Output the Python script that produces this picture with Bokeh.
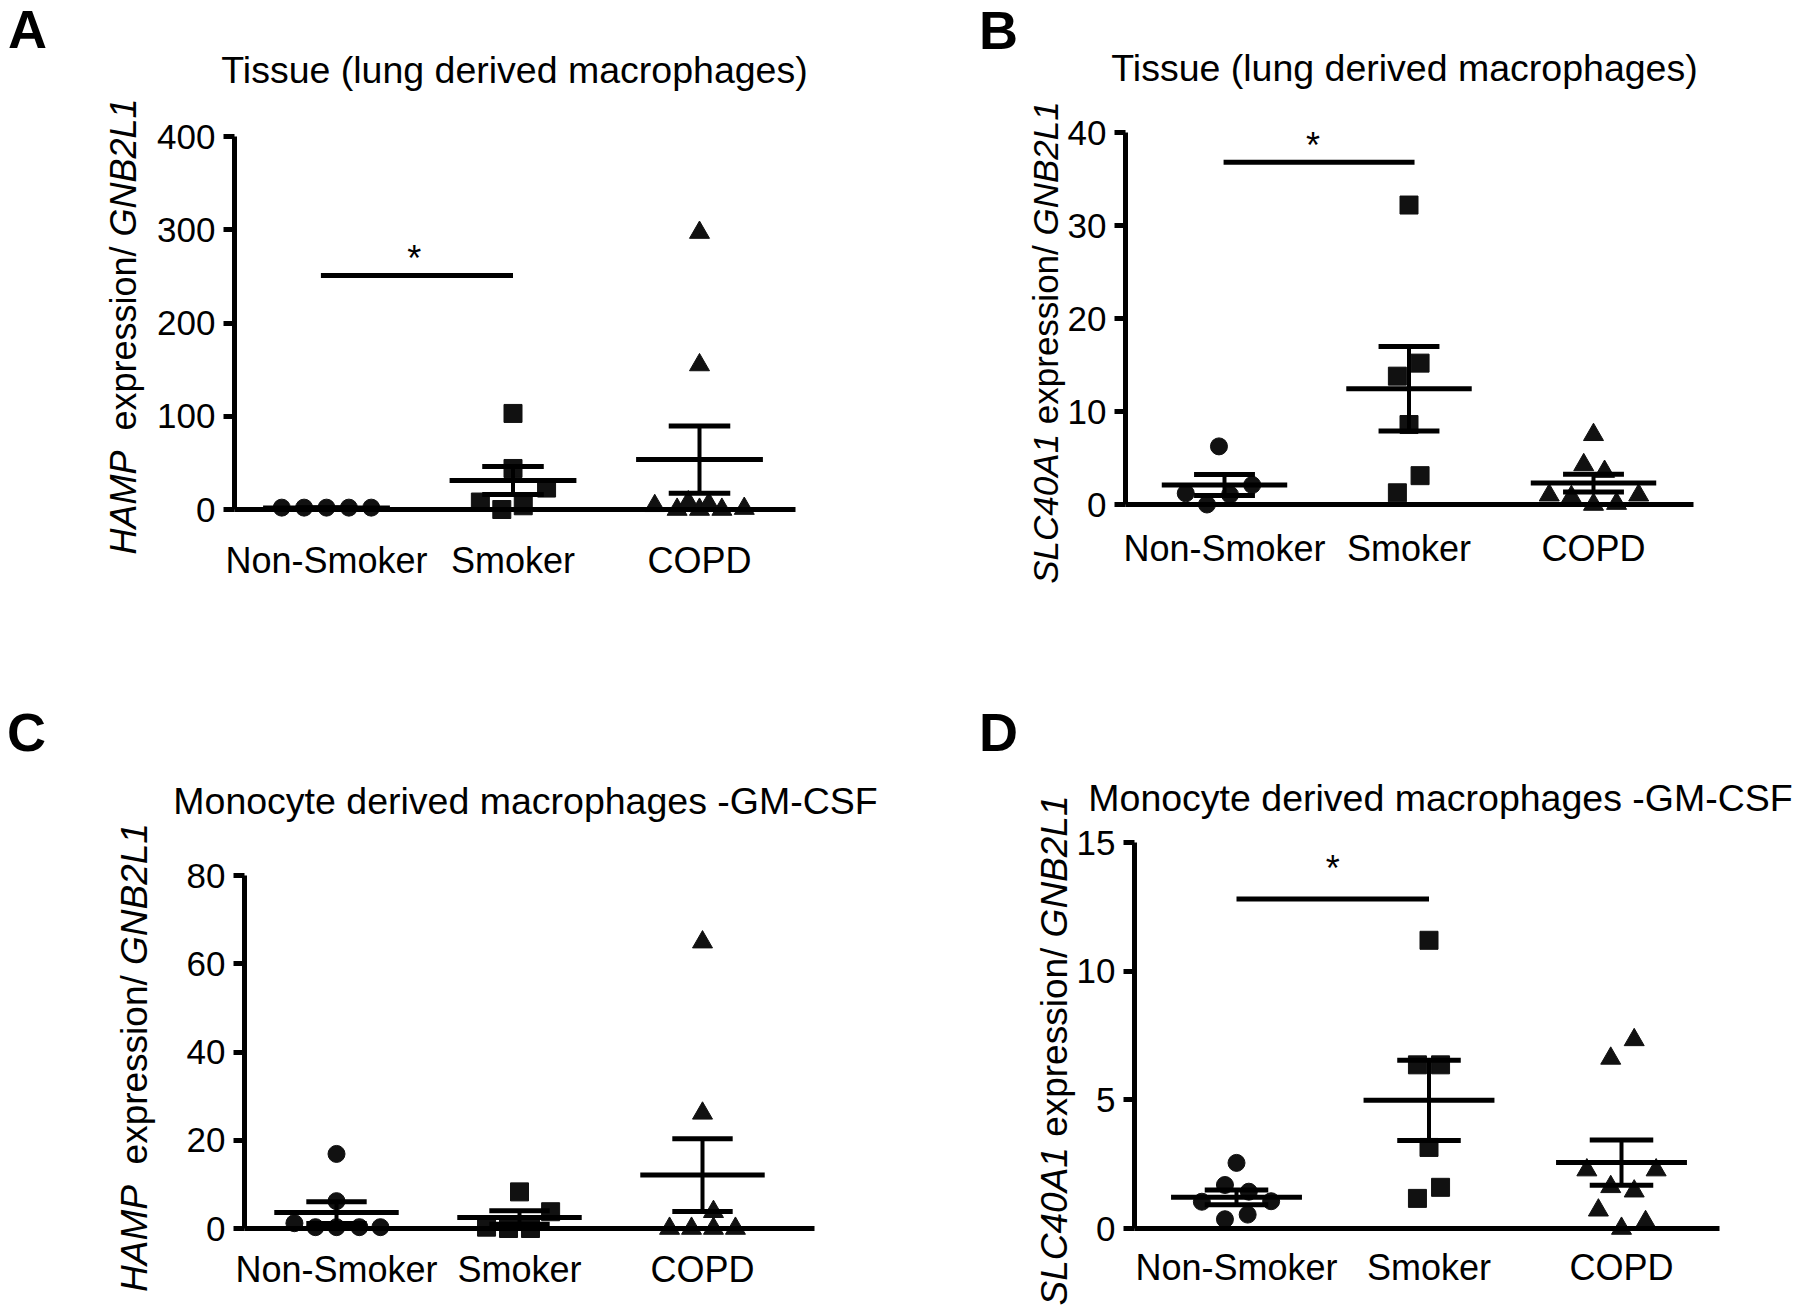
import math
from bokeh.plotting import figure
from bokeh.models import FixedTicker, Label, Range1d
from bokeh.layouts import column, row
from bokeh.embed import file_html
from bokeh.resources import INLINE
from bokeh.core.properties import value

# ---------------- data ----------------
groups = ["Non-Smoker", "Smoker", "COPD"]

# Panel A: HAMP, tissue
a_ns = [2, 2, 2, 2, 2]
a_ns_dx = [-0.24, -0.12, 0.0, 0.12, 0.24]
a_sm = [103, 44, 23, 8, 0, 4]
a_sm_dx = [0.0, 0.0, 0.18, -0.175, -0.06, 0.055]
a_copd = [297, 155, 4, 0, 8, 0, 6, 0, 1]
a_copd_dx = [0.0, 0.0, -0.24, -0.12, -0.06, 0.0, 0.05, 0.12, 0.24]
a_mean = [1.5, 31.0, 53.5]
a_sem = [0.5, 15.0, 36.0]
a_yticks = [0, 100, 200, 300, 400]
a_sig_x = [-0.03, 1.0]
a_sig_y = 251
a_star = [0.47, 278]

# Panel B: SLC40A1, tissue
b_ns = [6.25, 2.1, 1.2, 1.05, 0.0]
b_ns_dx = [-0.03, 0.15, -0.21, 0.03, -0.095]
b_sm = [32.2, 15.2, 13.8, 8.6, 3.1, 1.26]
b_sm_dx = [0.0, 0.06, -0.063, 0.0, 0.06, -0.063]
b_copd = [7.5, 4.26, 3.54, 1.0, 0.83, 0.0, 0.1, 1.0]
b_copd_dx = [0.0, -0.053, 0.06, -0.24, -0.12, 0.0, 0.125, 0.245]
b_mean = [2.1, 12.45, 2.3]
b_sem = [1.12, 4.55, 0.95]
b_yticks = [0, 10, 20, 30, 40]
b_sig_x = [-0.005, 1.03]
b_sig_y = 36.8
b_star = [0.48, 39.5]

# Panel C: HAMP, monocyte derived
c_ns = [16.9, 6.2, 1.2, 0.3, 0.3, 0.3, 0.3]
c_ns_dx = [0.0, 0.0, -0.23, -0.115, 0.0, 0.125, 0.24]
c_sm = [8.3, 3.8, 0.3, 0.0, 0.0]
c_sm_dx = [0.0, 0.17, -0.18, -0.06, 0.06]
c_copd = [64.9, 26.1, 3.8, 0.0, 0.0, 0.0, 0.0]
c_copd_dx = [0.0, 0.0, 0.06, -0.18, -0.06, 0.06, 0.18]
c_mean = [3.6, 2.5, 12.1]
c_sem = [2.45, 1.55, 8.25]
c_yticks = [0, 20, 40, 60, 80]

# Panel D: SLC40A1, monocyte derived
d_ns = [2.55, 1.69, 1.43, 1.04, 1.06, 0.36, 0.54]
d_ns_dx = [0.0, -0.06, 0.064, -0.18, 0.18, -0.06, 0.058]
d_sm = [11.2, 6.36, 6.36, 3.15, 1.6, 1.17]
d_sm_dx = [0.0, -0.06, 0.06, 0.0, 0.06, -0.06]
d_copd = [7.33, 6.61, 2.27, 2.27, 1.62, 1.45, 0.71, 0.26, 0.0]
d_copd_dx = [0.066, -0.056, -0.18, 0.18, -0.056, 0.066, -0.12, 0.125, 0.0]
d_mean = [1.21, 4.98, 2.56]
d_sem = [0.29, 1.56, 0.875]
d_yticks = [0, 5, 10, 15]
d_sig_x = [0.0, 1.0]
d_sig_y = 12.8
d_star = [0.5, 14.3]

title_tissue = "Tissue (lung derived macrophages)"
title_mono = "Monocyte derived macrophages -GM-CSF"

# ---------------- layout / style ----------------
FONT = "Liberation Sans"
FW, FH = 900, 658
INK = "#111111"
MEAN_HW = 0.34
CAP_HW = 0.165
LW = 5

ARIAL_W = {' ': 278, '/': 278, '0': 556, '1': 556, '2': 556, '4': 556, 'A': 667,
           'B': 667, 'C': 722, 'G': 778, 'H': 722, 'L': 556, 'M': 833, 'N': 722,
           'P': 667, 'S': 667, 'e': 556, 'x': 500, 'p': 556, 'r': 333, 's': 500,
           'i': 222, 'o': 556, 'n': 556}


def text_w(s, size):
    return sum(ARIAL_W.get(ch, 556) for ch in s) / 1000.0 * size


def make_panel(letter, title, ylab_pieces, ylab_gaps, yticks, series, means, sems,
               sig, geom):
    ox, oy = geom["origin"]
    cat0, cat2 = geom["cats"]
    unit_x = (cat2 - cat0) / 2.0
    y0 = geom["y0"]
    ytop, ytop_val = geom["ytop"]
    unit_y = (y0 - ytop) / ytop_val

    def dx(X):
        return (X - cat0) / unit_x

    def dy(Y):
        return (y0 - Y) / unit_y

    # the frame covers the whole figure; axes sit at fixed data locations
    p = figure(width=FW, height=FH,
               x_range=Range1d(dx(ox), dx(ox + FW)),
               y_range=Range1d(dy(oy + FH), dy(oy)),
               output_backend="svg", toolbar_location=None,
               min_border_left=0, min_border_right=0, min_border_top=0,
               min_border_bottom=0)
    p.title.visible = False
    p.xgrid.visible = False
    p.ygrid.visible = False
    p.outline_line_color = None
    p.background_fill_color = "white"
    p.border_fill_color = "white"

    x_axis_at = dx(geom["yaxis_x"])
    x_axis_end = dx(geom["xend"])

    xa = p.xaxis[0]
    xa.ticker = FixedTicker(ticks=[0, 1, 2])
    xa.major_label_overrides = {0: groups[0], 1: groups[1], 2: groups[2]}
    xa.fixed_location = 0
    xa.bounds = (x_axis_at, x_axis_end)
    xa.axis_line_width = LW
    xa.axis_line_color = "black"
    xa.major_tick_line_color = None
    xa.minor_tick_line_color = None
    xa.major_label_text_font = FONT
    xa.major_label_text_font_size = "36px"
    xa.major_label_text_color = "black"
    xa.major_label_standoff = geom["xlab_standoff"]

    ya = p.yaxis[0]
    ya.ticker = FixedTicker(ticks=yticks)
    ya.fixed_location = x_axis_at
    ya.bounds = (0, ytop_val)
    ya.axis_line_width = LW
    ya.axis_line_color = "black"
    ya.major_tick_line_width = LW
    ya.major_tick_line_color = "black"
    ya.major_tick_out = 11
    ya.major_tick_in = 0
    ya.minor_tick_line_color = None
    ya.major_label_text_font = FONT
    ya.major_label_text_font_size = "35px"
    ya.major_label_text_color = "black"
    ya.major_label_standoff = 8

    markers = [("circle", 17), ("square", 18), ("triangle", 20)]
    for gi, (ys, dxs) in enumerate(series):
        mk, sz = markers[gi]
        p.scatter(x=[gi + d for d in dxs], y=ys, marker=mk, size=sz,
                  fill_color=INK, line_color=INK)

    for gi in range(3):
        m, s = means[gi], sems[gi]
        p.segment(x0=[gi - MEAN_HW], x1=[gi + MEAN_HW], y0=[m], y1=[m],
                  line_width=LW, line_color="black")
        p.segment(x0=[gi], x1=[gi], y0=[m - s], y1=[m + s], line_width=4,
                  line_color="black")
        p.segment(x0=[gi - CAP_HW, gi - CAP_HW], x1=[gi + CAP_HW, gi + CAP_HW],
                  y0=[m - s, m + s], y1=[m - s, m + s], line_width=LW,
                  line_color="black")

    if sig is not None:
        sx, sy, star = sig
        p.segment(x0=[sx[0]], x1=[sx[1]], y0=[sy], y1=[sy], line_width=LW,
                  line_color="black")
        p.text(x=[star[0]], y=[star[1]], text=["*"], text_font=value(FONT),
               text_font_size="36px", text_align="center",
               text_baseline="middle", y_offset=8, text_color="black")

    # title
    tx, ty = geom["title"]
    p.add_layout(Label(x=dx(tx), y=dy(ty), text=title, text_font=FONT,
                       text_font_size="37.5px", text_align="center",
                       text_baseline="middle", text_color="black"))
    # panel letter
    lx, lyy = geom["letter"]
    p.add_layout(Label(x=dx(lx), y=dy(lyy), text=letter, text_font=FONT,
                       text_font_style="bold", text_font_size="54px",
                       text_align="center", text_baseline="middle",
                       text_color="black"))
    # y label in three pieces (italic gene names)
    cx, cy = geom["ylab"]
    size = geom["ylab_size"]
    offs = []
    pos = 0.0
    for i, (txt, style) in enumerate(ylab_pieces):
        offs.append(pos)
        pos += text_w(txt, size)
        if i < len(ylab_gaps):
            pos += text_w(" " * ylab_gaps[i], size)
    total = pos
    start = cy + total / 2.0
    for (txt, style), off in zip(ylab_pieces, offs):
        p.add_layout(Label(x=dx(cx), y=dy(start - off), text=txt, text_font=FONT,
                           text_font_style=style, text_font_size=f"{size}px",
                           text_align="left", text_baseline="middle",
                           angle=math.pi / 2, text_color="black"))
    return p


GEOM = {
    "A": dict(origin=(0, 0), yaxis_x=234, cats=(326, 699), xend=795, y0=509,
              ytop=(136, 400), title=(514, 69), letter=(27, 28), ylab=(123, 326),
              ylab_size=36, xlab_standoff=24),
    "B": dict(origin=(900, 0), yaxis_x=1125, cats=(1224, 1593), xend=1693, y0=504,
              ytop=(132, 40), title=(1404, 67), letter=(998, 29), ylab=(1045, 342),
              ylab_size=35, xlab_standoff=17),
    "C": dict(origin=(0, 658), yaxis_x=244, cats=(336, 702), xend=814, y0=1228,
              ytop=(875, 80), title=(525, 800), letter=(26, 731), ylab=(134, 1057),
              ylab_size=37, xlab_standoff=14),
    "D": dict(origin=(900, 658), yaxis_x=1134, cats=(1236, 1621), xend=1719, y0=1228,
              ytop=(842, 15), title=(1440, 797), letter=(998, 731), ylab=(1054, 1050),
              ylab_size=37, xlab_standoff=12),
}

hamp_lab = [("HAMP", "italic"), ("expression/", "normal"), ("GNB2L1", "italic")]
slc_lab = [("SLC40A1", "italic"), ("expression/", "normal"), ("GNB2L1", "italic")]

pA = make_panel("A", title_tissue, hamp_lab, [2, 1], a_yticks,
                [(a_ns, a_ns_dx), (a_sm, a_sm_dx), (a_copd, a_copd_dx)],
                a_mean, a_sem, (a_sig_x, a_sig_y, a_star), GEOM["A"])
pB = make_panel("B", title_tissue, slc_lab, [1, 1], b_yticks,
                [(b_ns, b_ns_dx), (b_sm, b_sm_dx), (b_copd, b_copd_dx)],
                b_mean, b_sem, (b_sig_x, b_sig_y, b_star), GEOM["B"])
pC = make_panel("C", title_mono, hamp_lab, [2, 1], c_yticks,
                [(c_ns, c_ns_dx), (c_sm, c_sm_dx), (c_copd, c_copd_dx)],
                c_mean, c_sem, None, GEOM["C"])
pD = make_panel("D", title_mono, slc_lab, [1, 1], d_yticks,
                [(d_ns, d_ns_dx), (d_sm, d_sm_dx), (d_copd, d_copd_dx)],
                d_mean, d_sem, (d_sig_x, d_sig_y, d_star), GEOM["D"])

layout = column(row(pA, pB), row(pC, pD))
open("out.html", "w").write(file_html(layout, INLINE))
